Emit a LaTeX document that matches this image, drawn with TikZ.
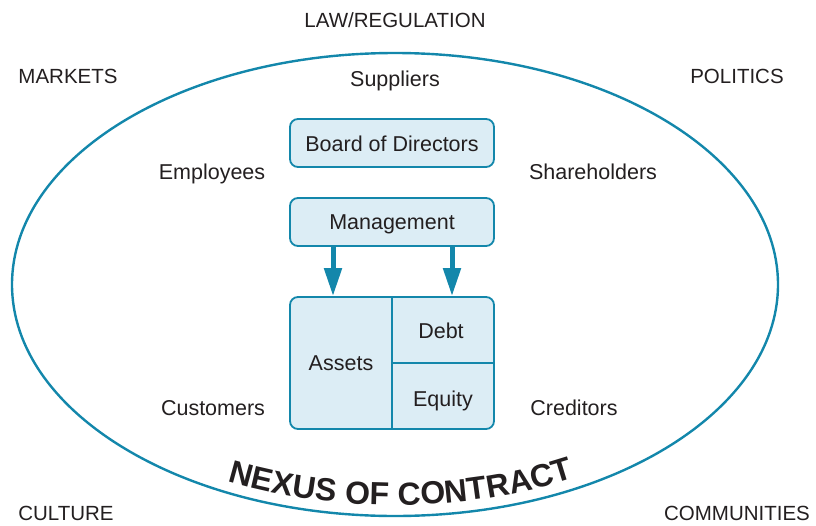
\documentclass[tikz,border=0pt]{standalone}
\usepackage{fontspec}
\setmainfont{Liberation Sans}
\usetikzlibrary{arrows.meta,decorations.text}
\definecolor{rim}{HTML}{1387AB}
\definecolor{boxfill}{HTML}{DCEDF5}
\definecolor{ink}{HTML}{231F20}
\begin{document}
\begin{tikzpicture}[x=1pt,y=-1pt,
  lbl/.style={text=ink,font=\fontsize{21.5}{25}\selectfont,inner sep=0,anchor=base},
  caps/.style={text=ink,font=\fontsize{20.5}{24}\selectfont,inner sep=0,anchor=base},
  panel/.style={draw=rim,fill=boxfill,line width=1.8pt,rounded corners=8pt,
    minimum width=204pt,inner sep=0},
  rule/.style={draw=rim,line width=1.8pt},
  push/.style={draw=rim,line width=5pt,-{Triangle[width=17pt,length=28pt]}}]
\useasboundingbox (0,0) rectangle (816,525);

% the surrounding nexus
\draw[rim,line width=2.4pt] (395,284.5) ellipse [x radius=383pt, y radius=231.5pt];
\path[decorate,decoration={text along path,text align=center,text color=ink,
    text={|\fontsize{32}{32}\selectfont\bfseries|NEXUS OF CONTRACT}}]
  (395,284.5) ++(201.5:372pt and 220.5pt)
  arc[start angle=201.5,end angle=341.5,x radius=372pt,y radius=220.5pt];

% outer environment
\node[caps] (law) at (395,27) {LAW/REGULATION};
\node[caps] (markets) at (68,83) {MARKETS};
\node[caps] (politics) at (737,83) {POLITICS};
\node[caps] (culture) at (66,520) {CULTURE};
\node[caps] (communities) at (737,520) {COMMUNITIES};

% stakeholders
\node[lbl] (suppliers) at (395,86) {Suppliers};
\node[lbl] (employees) at (212,179) {Employees};
\node[lbl] (shareholders) at (593,179) {Shareholders};
\node[lbl] (customers) at (213,415.5) {Customers};
\node[lbl] (creditors) at (574,415.5) {Creditors};

% governance boxes
\node[panel,minimum height=48pt] (board) at (392,143) {};
\node[lbl] at (392,151) {Board of Directors};
\node[panel,minimum height=48pt] (mgmt) at (392,222) {};
\node[lbl] at (392,229) {Management};

% balance sheet
\node[panel,minimum height=132pt] (bs) at (392,363) {};
\draw[rule] (bs.north) -- (bs.south);
\draw[rule] (bs.center) -- (bs.east);
\node[lbl] (assets) at (341,370) {Assets};
\node[lbl] (debt) at (441,338) {Debt};
\node[lbl] (equity) at (443,406) {Equity};

% management allocates to both sides
\coordinate (la) at (333,0);
\coordinate (ra) at (452,0);
\draw[push] (mgmt.south -| la) -- (bs.north -| la);
\draw[push] (mgmt.south -| ra) -- (bs.north -| ra);
\end{tikzpicture}
\end{document}
